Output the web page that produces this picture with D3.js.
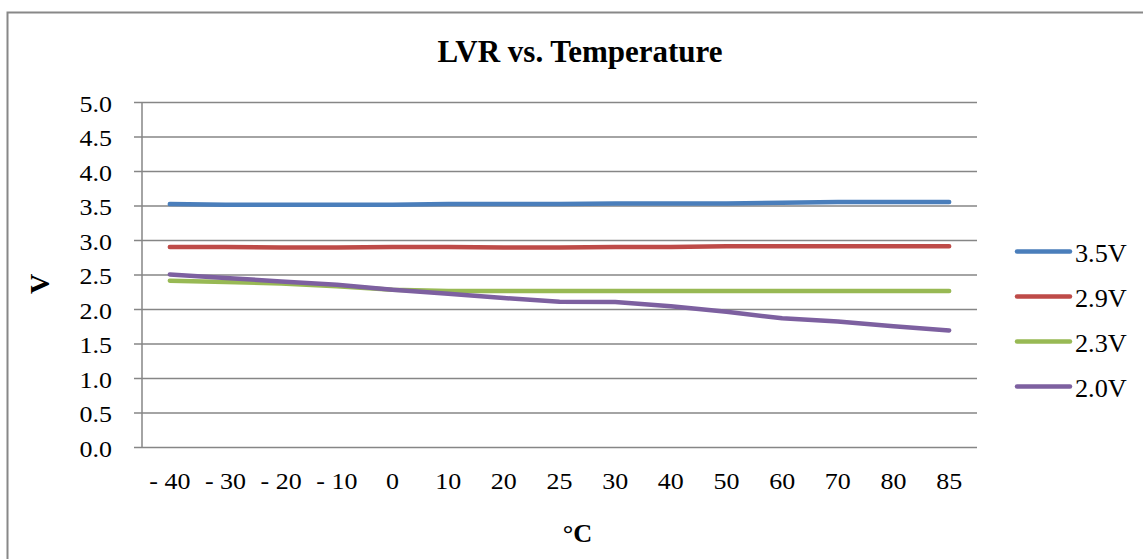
<!DOCTYPE html>
<html><head><meta charset="utf-8">
<script src="https://cdn.jsdelivr.net/npm/d3@7"></script>
<style>body{margin:0;background:#fff}svg{display:block}text{font-family:"Liberation Serif","Times New Roman",serif;fill:#000}</style>
</head><body><svg id="c" width="1143" height="559"></svg>
<script>
const categories = ["- 40","- 30","- 20","- 10","0","10","20","25","30","40","50","60","70","80","85"];
const s35 = [3.52,3.51,3.51,3.51,3.51,3.52,3.52,3.52,3.53,3.53,3.53,3.54,3.55,3.55,3.55];
const s29 = [2.90,2.90,2.89,2.89,2.90,2.90,2.89,2.89,2.90,2.90,2.91,2.91,2.91,2.91,2.91];
const s23 = [2.41,2.39,2.37,2.33,2.28,2.26,2.26,2.26,2.26,2.26,2.26,2.26,2.26,2.26,2.26];
const s20 = [2.50,2.45,2.40,2.35,2.28,2.22,2.16,2.105,2.10,2.04,1.96,1.865,1.82,1.75,1.69];
const seriesNames = ["3.5V","2.9V","2.3V","2.0V"];
const seriesColors = ["#4A7EBB","#BE4B48","#98B954","#7D60A0"];
const yTicks = [0,0.5,1,1.5,2,2.5,3,3.5,4,4.5,5];
const series = [s35,s29,s23,s20];

const svg = d3.select("#c");
const L=142,R=977,T=102,B=447;
const x = d3.scalePoint().domain(categories).range([L,R]).padding(0.5);
const y = d3.scaleLinear().domain([0,5]).range([B,T]);

function txt(g, xx, yy, s, size, sx, anchor, bold){
  return g.append("text").attr("transform",`translate(${xx},${yy}) scale(${sx},1)`)
    .attr("text-anchor",anchor).style("font-size",size+"px").style("font-weight",bold?"bold":"normal").text(s);
}

// outer border
svg.append("rect").attr("x",7.5).attr("y",12.5).attr("width",1200).attr("height",600)
  .attr("fill","none").attr("stroke","#888").attr("stroke-width",2);

// gridlines + ticks
const gy = svg.append("g").attr("transform",`translate(${L},0)`)
  .call(d3.axisLeft(y).tickValues(yTicks).tickSize(-(R-L)).tickSizeOuter(0).tickFormat(""));
gy.select(".domain").remove();
gy.selectAll(".tick line").attr("stroke","#868686").attr("stroke-width",1.5).attr("x1",-8);
// vertical axis line
svg.append("line").attr("x1",L).attr("x2",L).attr("y1",T).attr("y2",B).attr("stroke","#868686").attr("stroke-width",1.5);

// y labels
yTicks.forEach(v=>txt(svg,112,y(v)+9.5,d3.format(".1f")(v),23,1.13,"end",false));
// x labels
const gx = svg.append("g");
categories.forEach(c=>txt(gx,x(c),489,c,23,1.13,"middle",false));

// lines
const line = d3.line().x((d,i)=>x(categories[i])).y(d=>y(d));
series.forEach((s,i)=>{
  svg.append("path").datum(s).attr("d",line).attr("fill","none").attr("stroke",seriesColors[i])
    .attr("stroke-width",4.5).attr("stroke-linecap","round").attr("stroke-linejoin","round");
});

// legend
seriesNames.forEach((n,i)=>{
  const ly = 251.5 + i*45;
  svg.append("line").attr("x1",1017).attr("x2",1070).attr("y1",ly).attr("y2",ly)
    .attr("stroke",seriesColors[i]).attr("stroke-width",4.5).attr("stroke-linecap","round");
  txt(svg,1075,ly+10,n,25,1.05,"start",false);
});

// title
txt(svg,580,62,"LVR vs. Temperature",31,1,"middle",true);
// axis titles
txt(svg,577.5,541.5,"°C",25,1.05,"middle",true);
svg.append("text").attr("transform","translate(49,284) rotate(-90)").attr("text-anchor","middle")
  .style("font-size","28px").style("font-weight","bold").text("V");
</script></body></html>
